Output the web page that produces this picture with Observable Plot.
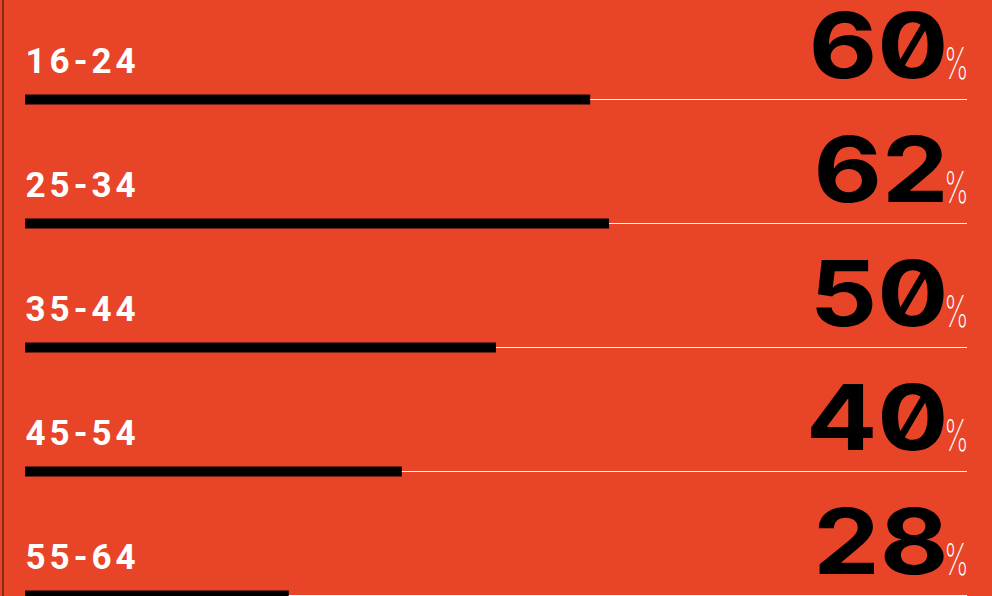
<!DOCTYPE html>
<html><head><meta charset="utf-8">
<script src="https://cdn.jsdelivr.net/npm/d3@7"></script>
<script src="https://cdn.jsdelivr.net/npm/@observablehq/plot@0.6"></script>
<style>
html,body{margin:0;padding:0;background:#E84428;}
#chart{position:relative;width:992px;height:596px;overflow:hidden;background:#E84428;}
#edge{position:absolute;left:2px;top:0;width:1.5px;height:596px;background:#8e2a1a;}
</style></head><body><div id="chart"><div id="edge"></div></div>
<script>
const ages = ["16-24", "25-34", "35-44", "45-54", "55-64"];
const shares = [60, 62, 50, 40, 28];
const unit = "%";
const data = ages.map((age, i) => ({age, value: shares[i]}));

const plot = Plot.plot({
  width: 992, height: 596, margin: 0,
  style: {background: "transparent", overflow: "visible"},
  x: {domain: [0, 100], range: [25, 967], axis: null},
  y: {type: "point", domain: ages, range: [98, 595], padding: 0, axis: null},
  marks: [
    Plot.ruleY(data, {y: "age", x1: 0, x2: 100, stroke: "#fff", strokeWidth: 1}),
    Plot.ruleY(data, {y: "age", x1: 0, x2: "value", stroke: "#000", strokeWidth: 10}),
    Plot.text(data, {x: 0, y: "age", text: "age", textAnchor: "start", lineAnchor: "bottom", dy: -27,
      fill: "#fff", fontSize: 35, fontWeight: 700, fontFamily: "Roboto"}),
    Plot.text(data, {x: 100, y: "age", text: d => String(d.value), textAnchor: "end", lineAnchor: "bottom",
      dx: -19, dy: -22, fill: "#000", fontSize: 91, fontWeight: 700, fontFamily: "Inter"}),
    Plot.text(data, {x: 100, y: "age", text: () => unit, textAnchor: "end", lineAnchor: "bottom",
      dx: 1, dy: -21, fill: "#fff", fontSize: 44, fontWeight: 200, fontFamily: "Inter"})
  ]
});
document.getElementById("chart").appendChild(plot);
plot.style.position = "absolute"; plot.style.left = "0"; plot.style.top = "0";
const groups = plot.querySelectorAll('g[aria-label="text"]');
groups[0].querySelectorAll("text").forEach(t => { t.style.letterSpacing = "4px"; });
groups[1].querySelectorAll("text").forEach(t => {
  t.style.fontFeatureSettings = '"zero" 1';
  t.setAttribute("transform", (t.getAttribute("transform") || "") + " scale(1.16,1)");
});
groups[2].querySelectorAll("text").forEach(t => {
  t.setAttribute("transform", (t.getAttribute("transform") || "") + " scale(0.62,1)");
});
</script></body></html>
